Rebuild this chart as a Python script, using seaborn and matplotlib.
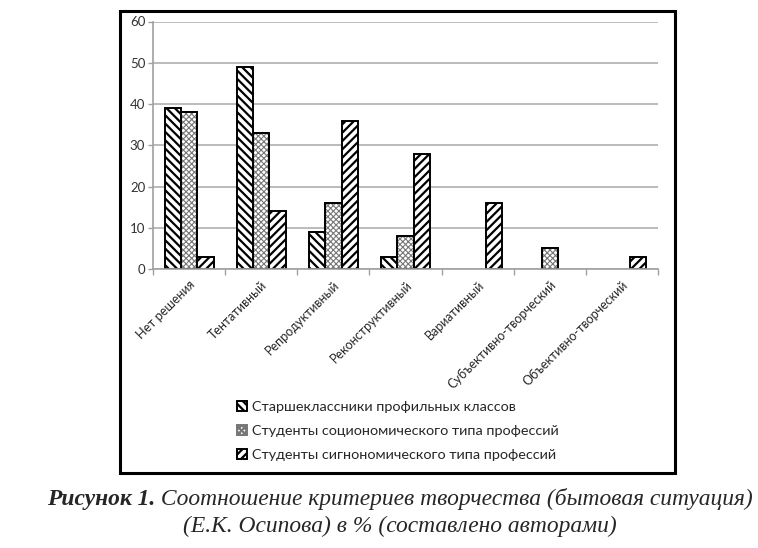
import numpy as np
import pandas as pd
import matplotlib
matplotlib.use("Agg")
import matplotlib.pyplot as plt
import seaborn as sns
from matplotlib.patches import Rectangle

categories = ["Нет решения", "Тентативный", "Репродуктивный", "Реконструктивный",
              "Вариативный", "Субъективно-творческий", "Объективно-творческий"]
series_names = ["Старшеклассники профильных классов",
                "Студенты социономического типа профессий",
                "Студенты сигнономического типа профессий"]
s1 = [39, 49, 9, 3, 0, 0, 0]
s2 = [38, 33, 16, 8, 0, 5, 0]
s3 = [3, 14, 36, 28, 16, 0, 3]
yticks = [0, 10, 20, 30, 40, 50, 60]

sns.set_style("white")
plt.rcParams["font.family"] = ["Lato", "DejaVu Sans"]
plt.rcParams["hatch.linewidth"] = 1.6

rows = []
for name, vals in zip(series_names, [s1, s2, s3]):
    for c, v in zip(categories, vals):
        rows.append({"cat": c, "series": name, "val": (np.nan if v == 0 else v)})
df = pd.DataFrame(rows)

fig = plt.figure(figsize=(7.58, 5.48), dpi=100)
ax = fig.add_axes([153/758, 1-269/548, (658-153)/758, (269-21.5)/548])

sns.barplot(data=df, x="cat", y="val", hue="series", order=categories,
            hue_order=series_names, palette=["white"]*3, width=0.68,
            edgecolor="black", linewidth=1.4, ax=ax, legend=False, errorbar=None)

hatches = ["\\\\\\\\", "xxxxxx", "////"]
for i, cont in enumerate(ax.containers):
    for p in cont:
        p.set_hatch(hatches[i])
        if i == 1:
            p.set_edgecolor("#777777")
            if hasattr(p, "set_hatch_linewidth"):
                p.set_hatch_linewidth(0.8)
            h = p.get_height()
            if np.isfinite(h):
                ax.add_patch(Rectangle(p.get_xy(), p.get_width(), h, fill=False,
                                       ec="black", lw=1.4, zorder=p.get_zorder()+0.1))

ax.set_ylim(0, 60)
ax.set_xlim(-0.5, len(categories) - 0.5)
ax.set_yticks(yticks)
ax.set_yticklabels([str(t) for t in yticks], fontsize=9.5, color="#333333")
ax.yaxis.grid(True, color="#b5b5b5", linewidth=1.3)
ax.set_axisbelow(True)
for s in ["top", "right"]:
    ax.spines[s].set_visible(False)
for s in ["left", "bottom"]:
    ax.spines[s].set_color("#a0a0a0")
    ax.spines[s].set_linewidth(1.2)
ax.tick_params(axis="y", length=3.6, color="#a0a0a0", width=1.0, pad=2, left=True)
ax.set_xticks(np.arange(len(categories)))
ax.set_xticklabels(categories, rotation=45, ha="right", rotation_mode="anchor",
                   fontsize=9)
ax.set_xticks(np.arange(len(categories) + 1) - 0.5, minor=True)
ax.tick_params(axis="x", which="major", length=0, pad=7)
ax.tick_params(axis="x", which="minor", length=4, color="#a0a0a0", width=1.0, bottom=True)
ax.set_xlabel("")
ax.set_ylabel("")

leg = fig.legend(ax.containers, series_names, loc="upper left",
                 bbox_to_anchor=(237/758, 1-401/548), frameon=False, fontsize=10.4,
                 handlelength=0.72, handleheight=0.72, handletextpad=0.3,
                 labelspacing=0.82, borderaxespad=0, borderpad=0)

# outer frame
fig.add_artist(Rectangle((120/758, 1-473/548), (675-120)/758, (473-11)/548,
                         transform=fig.transFigure, fill=False, ec="black", lw=2.2))

# caption
fig.canvas.draw()
r = fig.canvas.get_renderer()
cap_font = ["Liberation Serif", "DejaVu Serif"]
fs = 16.9
t1 = fig.text(0, 1-499/548, "Рисунок 1.", fontsize=fs, fontweight="bold",
              fontstyle="italic", family=cap_font, va="center", ha="left")
t2 = fig.text(0, 1-499/548, " Соотношение критериев творчества (бытовая ситуация)",
              fontsize=fs, fontstyle="italic", family=cap_font, va="center", ha="left")
w1 = t1.get_window_extent(r).width
w2 = t2.get_window_extent(r).width
x0 = 400 - (w1 + w2) / 2
t1.set_x(x0/758)
t2.set_x((x0 + w1)/758)
fig.text(400/758, 1-526/548, "(Е.К. Осипова) в % (составлено авторами)", fontsize=fs,
         fontstyle="italic", family=cap_font, va="center", ha="center")

fig.savefig("out.png", dpi=100)
